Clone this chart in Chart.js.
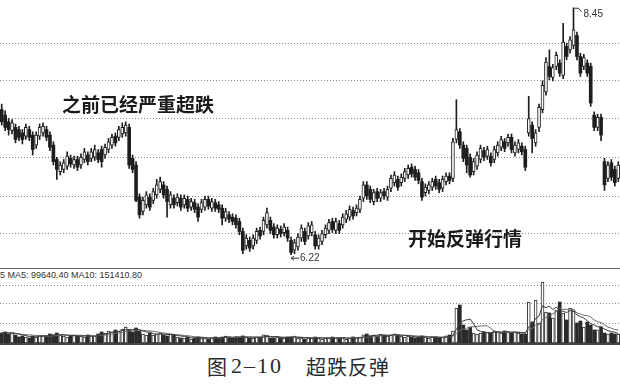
<!DOCTYPE html>
<html>
<head>
<meta charset="utf-8">
<script src="https://cdn.jsdelivr.net/npm/chart.js@4.4.0/dist/chart.umd.min.js"></script>
<style>
  html, body { margin: 0; padding: 0; background: #fff; }
  #wrap { position: relative; width: 620px; height: 392px; overflow: hidden; background: #fff; }
  .abs { position: absolute; }
  .note { font-family: "Noto Sans CJK SC", sans-serif; font-weight: 700; font-size: 19px; line-height: 1; color: #1a1a1a; white-space: nowrap; }
  .cap { font-family: "Noto Sans CJK SC", sans-serif; font-size: 20px; line-height: 1; color: #2a2a2a; white-space: nowrap; }
</style>
</head>
<body>
<div id="wrap">
  <canvas id="price" class="abs" width="620" height="268" style="left:0;top:0"></canvas>
  <div class="abs" style="left:0;top:268px;width:620px;height:1px;background:#666"></div>
  <div id="volHead" class="abs" style="left:0;top:270px;font:9px 'Liberation Sans',sans-serif;color:#333;white-space:nowrap">5 MA5: 99640.40 MA10: 151410.80</div>
  <canvas id="vol" class="abs" width="620" height="66" style="left:0;top:277px"></canvas>
  <div class="abs" style="left:0;top:343px;width:620px;height:2px;background:#444"></div>
  <div class="abs note" style="left:62px;top:94px">之前已经严重超跌</div>
  <div class="abs note" style="left:408px;top:228px">开始反弹行情</div>
  <div class="abs cap" style="left:207px;top:357px">图</div>
  <div class="abs" style="left:231px;top:355px;font:22px 'Liberation Serif',serif;letter-spacing:2px;color:#2a2a2a;line-height:1">2–10</div>
  <div class="abs cap" style="left:306px;top:357px;letter-spacing:1px">超跌反弹</div>
</div>
<script>
// daily candles (price in yuan)
const opens = [
  7.53, 7.48, 7.42, 7.34, 7.37, 7.35, 7.32, 7.29, 7.35, 7.30,
  7.21, 7.29, 7.32, 7.35, 7.30, 7.21, 7.08, 6.97, 6.99, 7.02,
  7.09, 7.03, 7.08, 7.03, 7.08, 7.12, 7.09, 7.10, 7.14, 7.17,
  7.12, 7.17, 7.21, 7.29, 7.28, 7.31, 7.32, 7.37, 7.09, 7.03,
  6.74, 6.61, 6.67, 6.74, 6.71, 6.76, 6.81, 6.85, 6.81, 6.67,
  6.73, 6.69, 6.73, 6.67, 6.72, 6.65, 6.69, 6.65, 6.63, 6.65,
  6.72, 6.64, 6.69, 6.67, 6.64, 6.55, 6.58, 6.56, 6.55, 6.52,
  6.43, 6.30, 6.35, 6.30, 6.35, 6.44, 6.43, 6.49, 6.53, 6.47,
  6.40, 6.45, 6.42, 6.44, 6.35, 6.26, 6.29, 6.37, 6.43, 6.39,
  6.42, 6.40, 6.30, 6.34, 6.40, 6.44, 6.52, 6.44, 6.50, 6.49,
  6.54, 6.56, 6.62, 6.60, 6.63, 6.73, 6.85, 6.81, 6.70, 6.79,
  6.73, 6.79, 6.74, 6.82, 6.87, 6.90, 6.87, 6.91, 6.94, 7.01,
  6.99, 6.96, 6.88, 6.78, 6.80, 6.83, 6.90, 6.87, 6.82, 6.88,
  6.93, 6.91, 7.26, 7.33, 7.21, 7.18, 7.10, 6.97, 7.02, 7.08,
  7.16, 7.11, 7.11, 7.08, 7.14, 7.19, 7.24, 7.23, 7.28, 7.14,
  7.17, 7.20, 7.17, 7.32, 7.39, 7.23, 7.37, 7.53, 7.69, 7.92,
  7.82, 7.92, 7.95, 7.84, 8.10, 8.07, 8.11, 8.20, 8.01, 7.92,
  7.95, 7.92, 7.48, 7.37, 7.46, 7.06, 6.91, 7.05, 6.99, 6.91
];
const highs = [
  7.58, 7.52, 7.45, 7.44, 7.40, 7.38, 7.35, 7.40, 7.38, 7.33,
  7.33, 7.40, 7.41, 7.38, 7.33, 7.24, 7.10, 7.06, 7.08, 7.15,
  7.12, 7.11, 7.11, 7.13, 7.18, 7.15, 7.18, 7.21, 7.17, 7.20,
  7.22, 7.27, 7.31, 7.32, 7.38, 7.41, 7.42, 7.40, 7.12, 7.06,
  6.77, 6.74, 6.79, 6.77, 6.82, 6.90, 6.92, 6.88, 6.84, 6.79,
  6.76, 6.77, 6.76, 6.76, 6.75, 6.73, 6.72, 6.68, 6.72, 6.75,
  6.75, 6.73, 6.72, 6.70, 6.67, 6.64, 6.61, 6.59, 6.58, 6.55,
  6.46, 6.40, 6.38, 6.40, 6.46, 6.47, 6.56, 6.64, 6.56, 6.50,
  6.49, 6.48, 6.50, 6.47, 6.38, 6.36, 6.41, 6.49, 6.46, 6.51,
  6.52, 6.43, 6.40, 6.44, 6.49, 6.54, 6.55, 6.55, 6.53, 6.59,
  6.62, 6.66, 6.65, 6.67, 6.75, 6.88, 6.88, 6.84, 6.81, 6.82,
  6.81, 6.82, 6.84, 6.94, 6.97, 6.93, 6.95, 7.00, 7.03, 7.04,
  7.02, 6.99, 6.91, 6.86, 6.88, 6.91, 6.93, 6.90, 6.93, 6.96,
  6.96, 7.27, 7.62, 7.36, 7.24, 7.21, 7.13, 7.09, 7.15, 7.21,
  7.19, 7.20, 7.14, 7.20, 7.24, 7.29, 7.27, 7.31, 7.31, 7.24,
  7.26, 7.23, 7.20, 7.65, 7.42, 7.35, 7.58, 7.79, 8.00, 8.07,
  7.94, 8.05, 7.98, 8.31, 8.13, 8.19, 8.45, 8.23, 8.04, 8.03,
  7.98, 7.95, 7.51, 7.49, 7.49, 7.09, 7.06, 7.08, 7.02, 7.06
];
const lows = [
  7.39, 7.34, 7.30, 7.31, 7.23, 7.25, 7.22, 7.26, 7.25, 7.12,
  7.18, 7.26, 7.29, 7.25, 7.16, 7.03, 6.90, 6.94, 6.96, 6.99,
  7.01, 7.00, 6.98, 7.00, 7.05, 7.03, 7.06, 7.07, 7.05, 7.01,
  7.09, 7.14, 7.18, 7.20, 7.25, 7.28, 7.29, 7.00, 6.96, 6.70,
  6.55, 6.58, 6.64, 6.62, 6.68, 6.73, 6.78, 6.73, 6.56, 6.64,
  6.64, 6.66, 6.62, 6.64, 6.61, 6.62, 6.60, 6.52, 6.60, 6.62,
  6.63, 6.61, 6.61, 6.60, 6.49, 6.52, 6.51, 6.49, 6.46, 6.40,
  6.23, 6.27, 6.25, 6.27, 6.32, 6.36, 6.40, 6.46, 6.41, 6.37,
  6.37, 6.38, 6.39, 6.34, 6.22, 6.23, 6.26, 6.34, 6.31, 6.36,
  6.39, 6.27, 6.27, 6.31, 6.37, 6.41, 6.42, 6.41, 6.41, 6.46,
  6.51, 6.53, 6.54, 6.57, 6.60, 6.70, 6.72, 6.69, 6.67, 6.70,
  6.70, 6.72, 6.71, 6.79, 6.84, 6.80, 6.84, 6.88, 6.91, 6.92,
  6.89, 6.86, 6.71, 6.75, 6.77, 6.80, 6.81, 6.78, 6.79, 6.85,
  6.86, 6.88, 7.23, 7.18, 7.06, 6.96, 6.92, 6.94, 6.99, 7.05,
  7.07, 7.08, 7.02, 7.05, 7.11, 7.16, 7.15, 7.20, 7.14, 7.11,
  7.14, 7.12, 6.98, 7.29, 7.14, 7.20, 7.33, 7.50, 7.66, 7.80,
  7.79, 7.89, 7.83, 7.81, 7.98, 8.04, 8.08, 7.98, 7.83, 7.89,
  7.83, 7.56, 7.34, 7.34, 7.25, 6.80, 6.88, 6.89, 6.84, 6.88
];
const closes = [
  7.42, 7.37, 7.35, 7.41, 7.26, 7.28, 7.26, 7.37, 7.28, 7.17,
  7.30, 7.37, 7.38, 7.28, 7.19, 7.06, 6.99, 7.03, 7.05, 7.11,
  7.04, 7.08, 7.01, 7.10, 7.15, 7.06, 7.15, 7.17, 7.08, 7.06,
  7.19, 7.24, 7.28, 7.23, 7.35, 7.37, 7.39, 7.03, 6.99, 6.71,
  6.58, 6.71, 6.76, 6.65, 6.79, 6.85, 6.88, 6.76, 6.70, 6.76,
  6.67, 6.74, 6.65, 6.73, 6.64, 6.70, 6.63, 6.56, 6.69, 6.72,
  6.66, 6.70, 6.64, 6.63, 6.55, 6.61, 6.54, 6.52, 6.49, 6.43,
  6.26, 6.37, 6.28, 6.37, 6.43, 6.39, 6.53, 6.60, 6.44, 6.40,
  6.46, 6.41, 6.47, 6.37, 6.24, 6.33, 6.38, 6.46, 6.34, 6.48,
  6.49, 6.30, 6.37, 6.41, 6.46, 6.51, 6.45, 6.52, 6.44, 6.56,
  6.59, 6.63, 6.57, 6.64, 6.72, 6.85, 6.75, 6.72, 6.78, 6.73,
  6.78, 6.75, 6.81, 6.91, 6.94, 6.83, 6.92, 6.97, 7.00, 6.95,
  6.92, 6.89, 6.74, 6.83, 6.85, 6.88, 6.84, 6.81, 6.90, 6.93,
  6.89, 7.24, 7.35, 7.21, 7.09, 7.03, 6.94, 7.06, 7.12, 7.18,
  7.10, 7.17, 7.05, 7.17, 7.21, 7.26, 7.18, 7.28, 7.17, 7.21,
  7.23, 7.15, 7.01, 7.45, 7.27, 7.32, 7.55, 7.75, 7.96, 7.83,
  7.91, 8.02, 7.86, 8.14, 8.01, 8.16, 8.25, 8.01, 7.86, 8.00,
  7.86, 7.59, 7.37, 7.46, 7.30, 6.85, 7.03, 6.92, 6.87, 7.03
];
const volumes = [
  93800, 104100, 85200, 94600, 74900, 56800, 66100, 55900, 47300, 65400,
  56200, 75600, 74800, 66300, 84900, 75300, 94200, 75100, 65700, 56600,
  65900, 75400, 66200, 65600, 56100, 75800, 66400, 65300, 84700, 103800,
  94300, 112600, 103900, 122500, 113100, 131900, 150800, 122100, 103600, 141300,
  112500, 84800, 75500, 94100, 75000, 84500, 93700, 75700, 65500, 84300,
  75100, 56300, 47400, 46800, 56900, 37900, 47100, 56500, 46700, 47600,
  37400, 47200, 56700, 46900, 56100, 66000, 56300, 47500, 56800, 55700,
  66700, 56200, 46600, 47300, 56500, 55800, 75900, 74600, 46900, 47700,
  56400, 47100, 46500, 56200, 57100, 65900, 47200, 46800, 37800, 47400,
  46700, 56600, 47100, 37200, 47500, 46900, 56300, 47800, 46400, 47200,
  37700, 47300, 56700, 46600, 56400, 75800, 84400, 66000, 75400, 65600,
  84900, 75200, 65900, 74700, 85300, 75600, 65400, 56800, 66200, 56100,
  47500, 56300, 66100, 56900, 46800, 56500, 55900, 47200, 56600, 66300,
  75400, 112900, 329400, 357000, 169500, 122600, 150100, 94400, 84700, 93900,
  103700, 103100, 94500, 112400, 103900, 94200, 113200, 103500, 94700, 103300,
  93800, 84900, 85100, 385200, 197800, 404500, 188300, 573600, 291100, 282400,
  235200, 310400, 385600, 282300, 216500, 329200, 300600, 188400, 206500, 150700,
  197100, 169400, 122300, 122800, 150200, 94300, 84800, 94600, 85000, 84400
];
const days = opens.map((_, i) => 'D' + (i + 1));
// dotted grid levels of the two panes
const priceGrid = [6.41, 6.75, 7.10, 7.45, 7.79, 8.13];
const volGrid = [188000, 366600, 545200];

const INK = '#1e1e1e';
const isUp = opens.map((o, i) => closes[i] >= o);

function movingAvg(arr, n) {
  return arr.map((_, i) => {
    const s = arr.slice(Math.max(0, i - n + 1), i + 1);
    return s.reduce((a, b) => a + b, 0) / s.length;
  });
}

const hiLoLabels = {
  id: 'hiLoLabels',
  afterDatasetsDraw(chart) {
    const { ctx, scales: { x, y } } = chart;
    let hi = 0, lo = 0;
    highs.forEach((h, i) => { if (h > highs[hi]) hi = i; });
    lows.forEach((l, i) => { if (l < lows[lo]) lo = i; });
    ctx.save();
    ctx.strokeStyle = '#333';
    ctx.fillStyle = '#333';
    ctx.lineWidth = 1;
    ctx.font = '10px "Liberation Sans", sans-serif';
    ctx.textBaseline = 'middle';

    const hx = x.getPixelForValue(hi), hy = y.getPixelForValue(highs[hi]);
    ctx.beginPath();
    ctx.moveTo(hx + 1, hy + 0.5);
    ctx.lineTo(hx + 5, hy + 0.5);
    ctx.lineTo(hx + 8, hy + 4);
    ctx.stroke();
    ctx.fillText(highs[hi].toFixed(2), hx + 10, hy + 6);

    const lx = x.getPixelForValue(lo), ly = y.getPixelForValue(lows[lo]) + 3.5;
    ctx.beginPath();
    ctx.moveTo(lx, ly);
    ctx.lineTo(lx + 8, ly);
    ctx.moveTo(lx, ly);
    ctx.lineTo(lx + 3, ly - 2);
    ctx.moveTo(lx, ly);
    ctx.lineTo(lx + 3, ly + 2);
    ctx.stroke();
    ctx.fillText(lows[lo].toFixed(2), lx + 9, ly);
    ctx.restore();
  }
};

const flatScale = {
  ticks: { display: false },
  border: { display: false, dash: [1, 2] },
  grid: { color: '#8a8a8a', lineWidth: 1, drawTicks: false, tickLength: 0 },
  afterFit: s => { s.width = 0; }
};

new Chart(document.getElementById('price'), {
  type: 'bar',
  data: {
    labels: days,
    datasets: [
      {
        label: 'body',
        data: opens.map((o, i) => [o, closes[i]]),
        backgroundColor: isUp.map(u => u ? '#ffffff' : INK),
        borderColor: INK,
        borderWidth: isUp.map(u => u ? 1 : 0),
        borderSkipped: false,
        barThickness: 3,
        grouped: false,
        order: 0
      },
      {
        label: 'wick',
        data: lows.map((l, i) => [l, highs[i]]),
        backgroundColor: INK,
        barThickness: 1,
        grouped: false,
        order: 1
      }
    ]
  },
  options: {
    responsive: false,
    devicePixelRatio: 1,
    animation: false,
    layout: { padding: 0 },
    plugins: { legend: { display: false }, tooltip: { enabled: false } },
    scales: {
      x: { display: false, offset: true },
      y: Object.assign({}, flatScale, {
        min: 6.10, max: 8.52,
        afterBuildTicks: s => { s.ticks = priceGrid.map(v => ({ value: v })); }
      })
    }
  },
  plugins: [hiLoLabels]
});

new Chart(document.getElementById('vol'), {
  type: 'bar',
  data: {
    labels: days,
    datasets: [
      {
        type: 'line', label: 'MA5', data: movingAvg(volumes, 5),
        borderColor: '#3a3a3a', borderWidth: 1, pointRadius: 0, tension: 0, order: 0
      },
      {
        type: 'line', label: 'MA10', data: movingAvg(volumes, 10),
        borderColor: '#6a6a6a', borderWidth: 1, pointRadius: 0, tension: 0, order: 1
      },
      {
        label: 'VOL', data: volumes,
        backgroundColor: isUp.map(u => u ? '#ffffff' : '#2a2a2a'),
        borderColor: '#2a2a2a',
        borderWidth: isUp.map(u => u ? 1 : 0),
        borderSkipped: false,
        barThickness: 3,
        order: 2
      }
    ]
  },
  options: {
    responsive: false,
    devicePixelRatio: 1,
    animation: false,
    layout: { padding: 0 },
    plugins: { legend: { display: false }, tooltip: { enabled: false } },
    scales: {
      x: { display: false, offset: true },
      y: Object.assign({}, flatScale, {
        min: 0, max: 620400,
        afterBuildTicks: s => { s.ticks = volGrid.map(v => ({ value: v })); }
      })
    }
  }
});
</script>
</body>
</html>
